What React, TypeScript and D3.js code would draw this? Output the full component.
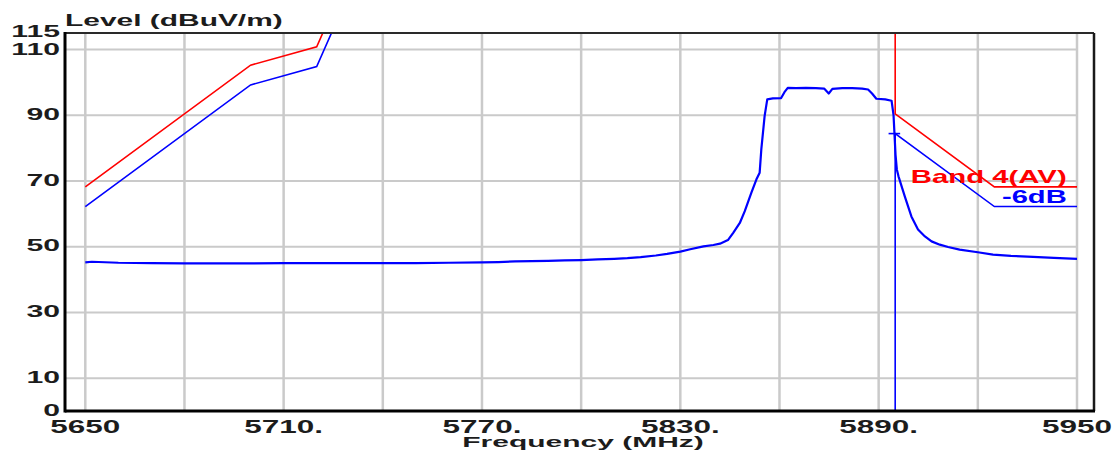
import React from "react";
import * as d3 from "d3";

const W = 1118;
const H = 456;

// grid & tick data
const xGridValues = [5650, 5680, 5710, 5740, 5770, 5800, 5830, 5860, 5890, 5920, 5950];
const yGridValues = [10, 30, 50, 70, 90, 110];
const xTickValues = [5650, 5710, 5770, 5830, 5890, 5950];
const xTickLabels = ["5650", "5710.", "5770.", "5830.", "5890.", "5950"];
const yTickValues = [0, 10, 30, 50, 70, 90, 110, 115];
const yTickLabels = ["0", "10", "30", "50", "70", "90", "110", "115"];

// limit line "Band 4(AV)" (red)
const limitLeftFreq = [5650, 5700, 5720, 5725];
const limitLeftLevel = [68.2, 105.2, 110.8, 122.2];
const limitRightFreq = [5895, 5895, 5925, 5950];
const limitRightLevel = [125, 90.4, 68.2, 68.2];

// margin line "-6dB" (blue)
const marginLeftFreq = [5650, 5700, 5720, 5725];
const marginLeftLevel = [62.2, 99.2, 104.8, 116.2];
const marginRightFreq = [5895, 5895, 5925, 5950];
const marginRightLevel = [0, 84.4, 62.2, 62.2];
const markerTickFreq = [5893, 5896.5];
const markerTickLevel = [84.4, 84.4];

// measured spectrum (blue)
const spectrumFreq = [
  5650, 5652, 5660, 5670, 5680, 5690, 5700, 5710, 5720, 5730, 5740, 5750, 5760, 5770, 5775,
  5780, 5785, 5790, 5795, 5800, 5805, 5810, 5814, 5818, 5822.6, 5826, 5830, 5833, 5837, 5840,
  5842, 5844.4, 5846, 5848, 5849.5, 5851.5, 5853, 5854, 5854.5, 5855.5, 5856.3, 5858, 5860.5,
  5861.5, 5862.5, 5865, 5868, 5871, 5873.5, 5874.9, 5876, 5879, 5882, 5885, 5886.8, 5888,
  5889.3, 5892, 5893.9, 5894.5, 5895.1, 5895.5, 5896, 5897.9, 5899.9, 5901.9, 5904, 5906,
  5908.5, 5911, 5914.5, 5920, 5924.6, 5930, 5936.7, 5943, 5950,
];
const spectrumLevel = [
  45.2, 45.4, 45.1, 45.0, 44.9, 44.9, 44.9, 45.0, 45.0, 45.0, 45.0, 45.0, 45.1, 45.2, 45.3,
  45.5, 45.6, 45.7, 45.8, 45.9, 46.1, 46.3, 46.5, 46.8, 47.3, 47.8, 48.5, 49.2, 50.1, 50.5,
  50.9, 52.0, 54.2, 57.2, 60.8, 66.4, 70.4, 72.5, 79.6, 89.7, 94.8, 95.1, 95.2,
  97.0, 98.3, 98.2, 98.3, 98.2, 98.1, 96.6, 98.0, 98.2, 98.2, 98.1, 97.8, 96.6,
  95.0, 94.8, 94.4, 90.0, 78.0, 73.5, 71.4, 65.3, 59.2, 55.2, 53.1, 51.6,
  50.6, 49.9, 49.1, 48.3, 47.6, 47.2, 46.9, 46.6, 46.3,
];

const frame = { left: 65, right: 1094, top: 33, bottom: 411 };
const FONT = "'Liberation Sans', Arial, sans-serif";
const TEXT = "#1c1c1c";
const GRID = "#cacaca";

const x = d3.scaleLinear().domain([5650, 5950]).range([85.3, 1077]);
const y = d3.scaleLinear().domain([0, 115]).range([frame.bottom, frame.top]);

const zip = (a: number[], b: number[]) => a.map((v, i) => [v, b[i]] as [number, number]);
const line = d3
  .line<[number, number]>()
  .x((d) => x(d[0]))
  .y((d) => y(d[1]));

// small baseline nudges so the crowded top labels sit as in the reference
const yLabelDy = (v: number) => (v === 115 ? 3.6 : v === 110 ? 5.2 : 4.6);

function SText(props: {
  x: number;
  y: number;
  sx: number;
  size: number;
  anchor: string;
  fill?: string;
  children: React.ReactNode;
}) {
  return (
    <text
      transform={`translate(${props.x},${props.y}) scale(${props.sx},1)`}
      textAnchor={props.anchor as any}
      fontSize={props.size}
      fontWeight="bold"
      fontFamily={FONT}
      fill={props.fill || TEXT}
    >
      {props.children}
    </text>
  );
}

export default function App() {
  return (
    <svg
      width={W}
      height={H}
      style={{ position: "absolute", left: 0, top: 0, background: "#fff" }}
    >
      <defs>
        <clipPath id="plotClip">
          <rect
            x={frame.left}
            y={frame.top}
            width={frame.right - frame.left}
            height={frame.bottom - frame.top}
          />
        </clipPath>
      </defs>
      <rect width={W} height={H} fill="#fff" />

      {/* grid */}
      {yGridValues.map((v) => (
        <line
          key={"hy" + v}
          x1={frame.left}
          x2={x(5950)}
          y1={y(v)}
          y2={y(v)}
          stroke={GRID}
          strokeWidth={2}
        />
      ))}
      {xGridValues.map((v) => (
        <line
          key={"vx" + v}
          x1={x(v)}
          x2={x(v)}
          y1={frame.top}
          y2={frame.bottom}
          stroke={GRID}
          strokeWidth={2.5}
        />
      ))}

      {/* data */}
      <g clipPath="url(#plotClip)" fill="none">
        <path d={line(zip(limitLeftFreq, limitLeftLevel)) || ""} stroke="#ff0000" strokeWidth={1.6} />
        <path d={line(zip(marginLeftFreq, marginLeftLevel)) || ""} stroke="#0000ff" strokeWidth={1.6} />
        <path d={line(zip(spectrumFreq, spectrumLevel)) || ""} stroke="#0000ff" strokeWidth={2.2} strokeLinejoin="round" />
        <path d={line(zip(marginRightFreq, marginRightLevel)) || ""} stroke="#0000ff" strokeWidth={1.6} />
        <path d={line(zip(markerTickFreq, markerTickLevel)) || ""} stroke="#0000ff" strokeWidth={1.6} />
        <path d={line(zip(limitRightFreq, limitRightLevel)) || ""} stroke="#ff0000" strokeWidth={1.6} />
      </g>

      {/* frame */}
      <line x1={frame.left} x2={frame.right} y1={frame.top} y2={frame.top} stroke="#2a2a2a" strokeWidth={2} />
      <line x1={frame.right} x2={frame.right} y1={frame.top} y2={frame.bottom} stroke="#1a1a1a" strokeWidth={2.5} />
      <line x1={frame.left} x2={frame.left} y1={frame.top - 1} y2={frame.bottom + 1.5} stroke="#000" strokeWidth={3} />
      <line x1={frame.left} x2={frame.right + 1} y1={frame.bottom} y2={frame.bottom} stroke="#000" strokeWidth={3} />

      {/* labels on lines */}
      <SText x={1066.7} y={183} sx={1.63} size={18} anchor="end" fill="#ff0000">
        Band 4(AV)
      </SText>
      <SText x={1066.7} y={202.7} sx={1.62} size={18} anchor="end" fill="#0000ff">
        -6dB
      </SText>

      {/* y ticks */}
      {yTickValues.map((v, i) => (
        <SText key={"yt" + v} x={60} y={y(v) + yLabelDy(v)} sx={1.83} size={16.5} anchor="end">
          {yTickLabels[i]}
        </SText>
      ))}

      {/* x ticks */}
      {xTickValues.map((v, i) => (
        <SText key={"xt" + v} x={x(v)} y={433} sx={1.8} size={17.5} anchor="middle">
          {xTickLabels[i]}
        </SText>
      ))}

      {/* titles */}
      <SText x={65} y={26} sx={1.76} size={17} anchor="start">
        Level (dBuV/m)
      </SText>
      <SText x={583} y={447.3} sx={2.0} size={15} anchor="middle">
        Frequency (MHz)
      </SText>
    </svg>
  );
}
